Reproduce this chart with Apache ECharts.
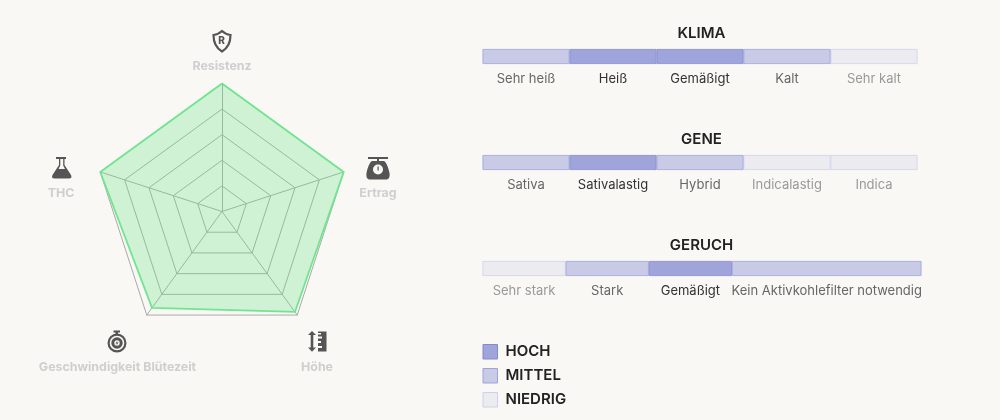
<!DOCTYPE html>
<html>
<head>
<meta charset="utf-8">
<style>
	html, body { margin: 0; padding: 0; background: #f9f8f5; }
	#chart { width: 1000px; height: 420px; }
</style>
<script src="https://cdn.jsdelivr.net/npm/echarts@6/dist/echarts.min.js"></script>
</head>
<body>
<div id="chart"></div>
<script>
// radar
var radarNames = ['Resistenz', 'THC', 'Geschwindigkeit Blütezeit', 'Höhe', 'Ertrag'];
var radarValues = [100, 100, 93, 97, 100];

// scales on the right: 2 = hoch, 1 = mittel, 0 = niedrig
var klimaLabels = ['Sehr heiß', 'Heiß', 'Gemäßigt', 'Kalt', 'Sehr kalt'];
var klimaLevels = [1, 2, 2, 1, 0];
var klimaSpans = [1, 1, 1, 1, 1];

var geneLabels = ['Sativa', 'Sativalastig', 'Hybrid', 'Indicalastig', 'Indica'];
var geneLevels = [1, 2, 1, 0, 0];
var geneSpans = [1, 1, 1, 1, 1];

var geruchLabels = ['Sehr stark', 'Stark', 'Gemäßigt', 'Kein Aktivkohlefilter notwendig'];
var geruchLevels = [0, 1, 2, 1];
var geruchSpans = [1, 1, 1, 2.28];

var levelNames = ['NIEDRIG', 'MITTEL', 'HOCH'];

var fontName = 'Inter';
var bg = '#f9f8f5';
var iconColor = '#555555';
var fills = ['#ecebf0', '#c9cae6', '#9fa5db'];
var borders = ['#cfd0ea', '#9ea3dc', '#8489d2'];
var textColors = ['#999999', '#666666', '#333333'];

var groups = [
	{ title: 'KLIMA', labels: klimaLabels, levels: klimaLevels, spans: klimaSpans, top: 49, width: 435, titleTop: 26 },
	{ title: 'GENE', labels: geneLabels, levels: geneLevels, spans: geneSpans, top: 155, width: 435, titleTop: 132 },
	{ title: 'GERUCH', labels: geruchLabels, levels: geruchLevels, spans: geruchSpans, top: 261, width: 439, titleTop: 238 }
];

var grids = [], xAxes = [], yAxes = [], titles = [], series = [];

groups.forEach(function(group, index) {
	var total = group.spans.reduce(function(a, b) { return a + b; }, 0);
	grids.push({ left: 482.5, top: group.top, width: group.width, height: 15 });
	xAxes.push({ type: 'value', gridIndex: index, min: 0, max: total, show: false });
	yAxes.push({ type: 'category', gridIndex: index, data: [group.title], show: false });
	titles.push({
		text: group.title,
		left: 701.5,
		top: group.titleTop,
		padding: 0,
		textAlign: 'center',
		textStyle: { color: '#222222', fontSize: 15, fontWeight: 600, fontFamily: fontName }
	});
	group.labels.forEach(function(label, i) {
		var level = group.levels[i];
		series.push({
			type: 'bar',
			name: levelNames[level],
			xAxisIndex: index,
			yAxisIndex: index,
			stack: group.title,
			barWidth: 15,
			z: 2 + level,
			silent: true,
			data: [group.spans[i]],
			itemStyle: { color: fills[level], borderColor: borders[level], borderWidth: 0.8 },
			label: {
				show: true,
				position: 'inside',
				offset: [0, 23],
				formatter: label,
				color: textColors[level],
				fontSize: 13,
				fontFamily: fontName
			}
		});
	});
});

series.push({
	type: 'radar',
	radarIndex: 0,
	symbol: 'none',
	silent: true,
	lineStyle: { color: '#72e692', width: 1.8 },
	areaStyle: { color: 'rgba(110, 225, 135, 0.3)', opacity: 1 },
	data: [{ value: radarValues }]
});

// axis names and their icons sit at fixed spots around the radar
var radarLabelPos = [[222, 66.5], [61, 193], [117.5, 367], [317, 367], [378, 193]];
var graphics = radarNames.map(function(name, i) {
	return {
		type: 'text',
		x: radarLabelPos[i][0],
		y: radarLabelPos[i][1],
		style: {
			text: name,
			fill: '#cfcfcf',
			font: '700 12.4px ' + fontName,
			textAlign: 'center',
			textVerticalAlign: 'middle'
		}
	};
});

// graphic has no plain path type, so each icon outline is registered as a shape
var iconCount = 0;
function pathIcon(d, style) {
	var shapeName = 'icon' + (iconCount++);
	echarts.graphic.registerShape(shapeName, echarts.graphic.extendPath(d, {}));
	return { type: shapeName, style: style };
}
function ring(cx, cy, r, width) {
	return { type: 'circle', shape: { cx: cx, cy: cy, r: r }, style: { fill: 'none', stroke: iconColor, lineWidth: width } };
}

graphics = graphics.concat([
	// shield
	pathIcon('M222,31 C224.5,33.5 227,34.5 230.5,35 C230.5,43 228,48 222,51.5 C216,48 213.5,43 213.5,35 C217,34.5 219.5,33.5 222,31 Z',
		{ fill: 'none', stroke: iconColor, lineWidth: 2.2 }),
	{ type: 'text', x: 221.5, y: 41, style: { text: 'R', fill: iconColor, font: '800 10px ' + fontName, textAlign: 'center', textVerticalAlign: 'middle' } },
	// flask
	pathIcon('M56,157 H66 V159 H64.5 V165 L71,175 Q72.5,178.5 69,178.5 H54.5 Q51,178.5 52.5,175 L59,165 V159 H56 Z', { fill: iconColor }),
	pathIcon('M60.3,159 H63.2 V165.5 L65,169 H58.5 L60.3,165.5 Z', { fill: bg }),
	// scale
	pathIcon('M368,157 H388 V159 H379 V161 H384 C386,162 388,166 389.5,173 C390,177 389,179.5 386,179.5 H370 C367,179.5 366,177 366.5,173 C368,166 370,162 372,161 H377 V159 H368 Z', { fill: iconColor }),
	{ type: 'circle', shape: { cx: 378, cy: 169.5, r: 5 }, style: { fill: bg } },
	pathIcon('M377.5,166.5 H378.7 V170.5 H377.5 Z', { fill: iconColor }),
	// stopwatch
	pathIcon('M113.5,330.5 H120 V332.5 H118 V335 H115.5 V332.5 H113.5 Z', { fill: iconColor }),
	ring(117, 343, 8.4, 2.2),
	ring(117, 343, 4.2, 3),
	pathIcon('M117.5,340.5 L115.5,343.5 H117 L116.5,345.5 L118.5,342.5 H117 Z', { fill: iconColor }),
	// height
	pathIcon('M312,331 L316,335 H313.3 V347.5 H316 L312,351.7 L308,347.5 H310.7 V335 H308 Z', { fill: iconColor }),
	pathIcon('M318,331.5 H326.5 V351.5 H318 V348 H322 V346 H318 V343 H321 V341 H318 V338.5 H322 V336.5 H318 V334.5 H321 V333 H318 Z', { fill: iconColor })
]);

var myChart = echarts.init(document.getElementById('chart'));

myChart.setOption({
	backgroundColor: bg,
	animation: false,
	title: titles,
	legend: {
		left: 482.5,
		top: 344,
		padding: 0,
		orient: 'vertical',
		icon: 'rect',
		itemWidth: 14.5,
		itemHeight: 14.5,
		itemGap: 8.5,
		selectedMode: false,
		itemStyle: { borderWidth: 1 },
		data: ['HOCH', 'MITTEL', 'NIEDRIG'],
		textStyle: { color: '#222222', fontSize: 15, fontWeight: 600, lineHeight: 15, fontFamily: fontName, padding: [0, 0, 0, 3] }
	},
	radar: {
		center: [222, 211.5],
		radius: 128,
		startAngle: 90,
		splitNumber: 5,
		shape: 'polygon',
		axisName: { show: false },
		axisLine: { lineStyle: { color: '#aaaaaa', width: 1 } },
		axisTick: { show: false },
		splitLine: { lineStyle: { color: '#aaaaaa', width: 1 } },
		splitArea: { show: false },
		indicator: radarNames.map(function(name) { return { name: name, min: 0, max: 100 }; })
	},
	grid: grids,
	xAxis: xAxes,
	yAxis: yAxes,
	series: series,
	graphic: graphics
});
</script>
</body>
</html>
